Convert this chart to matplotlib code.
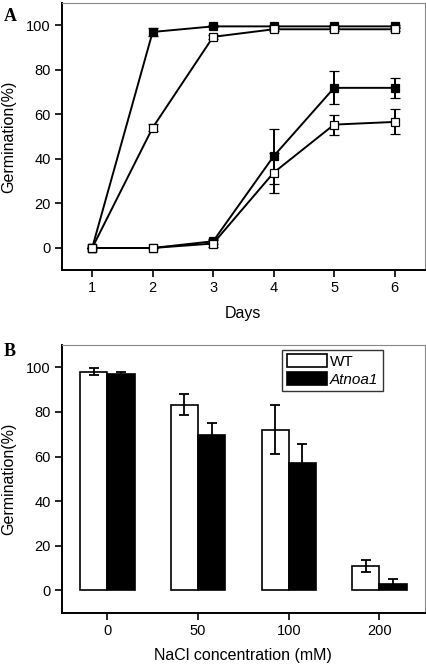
import matplotlib
matplotlib.use("Agg")
import matplotlib.pyplot as plt
import numpy as np

plt.rcParams['font.family'] = ['Liberation Sans', 'DejaVu Sans']

# panel A: germination over days
days = [1, 2, 3, 4, 5, 6]
wt_ctrl = [0, 97, 99.5, 99.5, 99.5, 99.5]
wt_ctrl_err = [0, 1.9, 0.5, 0.5, 0.5, 0.5]
mut_ctrl = [0, 54, 94.8, 98.2, 98.2, 98.2]
mut_ctrl_err = [0, 1.5, 1.0, 0.6, 0.6, 0.6]
wt_salt = [0, 0, 3, 41.2, 71.9, 71.9]
wt_salt_err = [0, 0, 1.0, 12.3, 7.4, 4.5]
mut_salt = [0, 0, 2, 33.8, 55.4, 56.6]
mut_salt_err = [0, 0, 1.5, 9.0, 4.5, 5.6]

# panel B: germination vs NaCl
nacl = ['0', '50', '100', '200']
wt_bar = [98.1, 83.3, 72.0, 11.1]
wt_bar_err = [1.7, 4.6, 11.0, 2.7]
mut_bar = [97.0, 69.8, 57.1, 3.0]
mut_bar_err = [1.0, 5.2, 8.7, 2.2]

fig = plt.figure(figsize=(4.27, 6.64), dpi=100)
axA = fig.add_axes([0.145, 0.593, 0.850, 0.4025])
axB = fig.add_axes([0.145, 0.0772, 0.850, 0.4032])


def style_axes(ax):
    for s in ['left', 'bottom']:
        ax.spines[s].set_linewidth(1.4)
    for s in ['top', 'right']:
        ax.spines[s].set_linewidth(0.8)
        ax.spines[s].set_color('#888888')
    ax.tick_params(direction='out', length=5, width=1.2, labelsize=10.5,
                   top=False, right=False, pad=3)
    ax.set_ylim(-10, 110)
    ax.set_yticks([0, 20, 40, 60, 80, 100])
    ax.set_ylabel('Germination(%)', fontsize=11.5, labelpad=7)


# draw filled first, open on top
for vals, errs, face in [(wt_ctrl, wt_ctrl_err, 'black'), (wt_salt, wt_salt_err, 'black'),
                         (mut_ctrl, mut_ctrl_err, 'white'), (mut_salt, mut_salt_err, 'white')]:
    axA.errorbar(days, vals, yerr=errs, color='black', lw=1.4, marker='s', ms=6,
                 mfc=face, mec='black', mew=0.9, capsize=3.5, capthick=1.4, elinewidth=1.4)

axA.set_xlim(0.5, 6.5)
axA.set_xticks(days)
style_axes(axA)
axA.set_xlabel('Days', fontsize=11.5, labelpad=8)

x = np.arange(len(nacl))
w = 0.3
axB.bar(x - w / 2, wt_bar, w, color='white', edgecolor='black', lw=1.2, label='WT')
axB.bar(x + w / 2, mut_bar, w, color='black', edgecolor='black', lw=1.2, label='Atnoa1')
axB.errorbar(x - w / 2, wt_bar, yerr=wt_bar_err, fmt='none', ecolor='black',
             elinewidth=1.3, capsize=3.5, capthick=1.3)
axB.errorbar(x + w / 2, mut_bar, yerr=mut_bar_err, fmt='none', ecolor='black',
             elinewidth=1.3, capsize=3.5, capthick=1.3)
axB.set_xlim(-0.5, 3.5)
axB.set_xticks(x)
axB.set_xticklabels(nacl)
style_axes(axB)
axB.set_xlabel('NaCl concentration (mM)', fontsize=11.5, labelpad=7)
leg = axB.legend(loc='upper right', bbox_to_anchor=(0.884, 0.982), fontsize=11,
                 frameon=True, fancybox=False, handlelength=2.6, handleheight=0.9,
                 borderpad=0.3, labelspacing=0.2, handletextpad=0.2, borderaxespad=0)
leg.get_frame().set_edgecolor('black')
leg.get_frame().set_linewidth(1.0)
leg.get_texts()[1].set_style('italic')

fig.text(0.008, 0.988, 'A', fontsize=13, fontweight='bold', family='Liberation Serif', va='top')
fig.text(0.008, 0.484, 'B', fontsize=13, fontweight='bold', family='Liberation Serif', va='top')

fig.savefig('out.png', dpi=100)
